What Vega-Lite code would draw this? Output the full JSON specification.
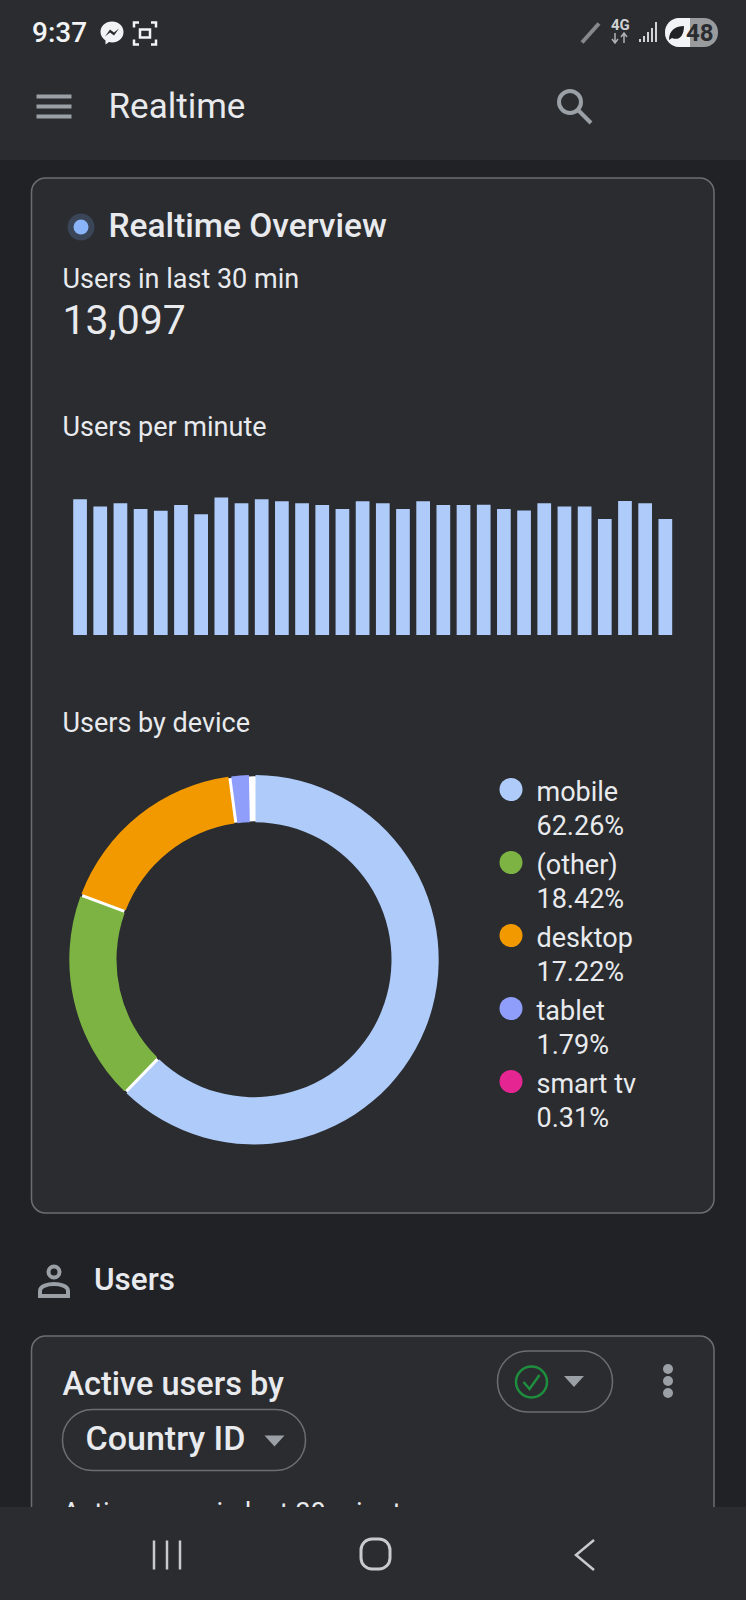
{
  "$schema": "https://vega.github.io/schema/vega-lite/v6.json",
  "width": 746,
  "height": 1600,
  "padding": 0,
  "autosize": {"type": "fit", "contains": "padding"},
  "background": "#202226",
  "config": {
    "view": {"stroke": null},
    "text": {"font": "Roboto", "align": "left", "baseline": "alphabetic", "color": "#e8eaed"}
  },
  "datasets": {
    "perMinute": [
      {"minute": 1, "users": 459}, {"minute": 2, "users": 434}, {"minute": 3, "users": 445},
      {"minute": 4, "users": 426}, {"minute": 5, "users": 420}, {"minute": 6, "users": 439},
      {"minute": 7, "users": 408}, {"minute": 8, "users": 465}, {"minute": 9, "users": 445},
      {"minute": 10, "users": 459}, {"minute": 11, "users": 452}, {"minute": 12, "users": 445},
      {"minute": 13, "users": 439}, {"minute": 14, "users": 426}, {"minute": 15, "users": 452},
      {"minute": 16, "users": 445}, {"minute": 17, "users": 426}, {"minute": 18, "users": 452},
      {"minute": 19, "users": 439}, {"minute": 20, "users": 439}, {"minute": 21, "users": 440},
      {"minute": 22, "users": 426}, {"minute": 23, "users": 421}, {"minute": 24, "users": 445},
      {"minute": 25, "users": 434}, {"minute": 26, "users": 434}, {"minute": 27, "users": 392},
      {"minute": 28, "users": 453}, {"minute": 29, "users": 445}, {"minute": 30, "users": 392}
    ],
    "devices": [
      {"device": "mobile", "share": 62.26, "rank": 1},
      {"device": "(other)", "share": 18.42, "rank": 2},
      {"device": "desktop", "share": 17.22, "rank": 3},
      {"device": "tablet", "share": 1.79, "rank": 4},
      {"device": "smart tv", "share": 0.31, "rank": 5}
    ]
  },
  "layer": [
    {"data": {"values": [{}]}, "mark": {"type": "rect", "x": 0, "x2": 746, "y": 0, "y2": 160, "fill": "#2a2c30"}},
    {"data": {"values": [{}]}, "mark": {"type": "rect", "x": 31.5, "x2": 714, "y": 178, "y2": 1213, "cornerRadius": 14, "fill": "#2a2c2f", "stroke": "#6b6e72", "strokeWidth": 1.5}},

    {"data": {"values": [{"label": "9:37"}]}, "mark": {"type": "text", "x": 32, "y": 42, "fontSize": 28, "fontWeight": 500, "color": "#f1f3f4"}, "encoding": {"text": {"field": "label"}}},
    {"data": {"values": [{}]}, "mark": {"type": "point", "x": 112, "y": 33, "shape": "M0,-11.5C6.5,-11.5 11.5,-7 11.5,-1C11.5,5 6.5,9.5 0,9.5C-1,9.5 -2,9.4 -3,9.1L-6.5,11.5V7.5C-9.5,5.5 -11.5,2.5 -11.5,-1C-11.5,-7 -6.5,-11.5 0,-11.5Z", "size": 4, "filled": true, "color": "#f1f3f4", "opacity": 1}},
    {"data": {"values": [{}]}, "mark": {"type": "point", "x": 112, "y": 32.5, "shape": "M-7,4L-2,-3L2,0L7,-4L2,3L-2,0Z", "size": 4, "filled": true, "color": "#2a2c30", "opacity": 1}},
    {"data": {"values": [{}]}, "mark": {"type": "point", "x": 145, "y": 33.5, "shape": "M-11,-6V-11H-6M6,-11H11V-6M11,6V11H6M-6,11H-11V6M-5,-4H5V4H-5Z", "size": 4, "filled": false, "color": "#f1f3f4", "strokeWidth": 2.5, "opacity": 1}},
    {"data": {"values": [{}]}, "mark": {"type": "point", "x": 590, "y": 33, "shape": "M-8,9.5L9,-9.5", "size": 4, "filled": false, "color": "#85888c", "strokeWidth": 4, "opacity": 1}},
    {"data": {"values": [{"label": "4G"}]}, "mark": {"type": "text", "x": 611, "y": 30, "fontSize": 15, "fontWeight": 700, "color": "#d0d2d4"}, "encoding": {"text": {"field": "label"}}},
    {"data": {"values": [{}]}, "mark": {"type": "point", "x": 620, "y": 38, "shape": "M-5,-5V4M-8,1L-5,5L-2,1M4,5V-4M1,-1L4,-5L7,-1", "size": 4, "filled": false, "color": "#b0b2b4", "strokeWidth": 1.5, "opacity": 1}},
    {"data": {"values": [{}]}, "mark": {"type": "point", "x": 648, "y": 32, "shape": "M-9,10V7H-7V10ZM-5,10V4H-3V10ZM-1,10V0H1V10ZM3,10V-4H5V10ZM7,10V-10H9V10Z", "size": 4, "filled": true, "color": "#d0d2d4", "opacity": 1}},
    {"data": {"values": [{}]}, "mark": {"type": "rect", "x": 665, "x2": 718, "y": 18, "y2": 47, "cornerRadius": 14, "fill": "#9a9b9d"}},
    {"data": {"values": [{}]}, "mark": {"type": "point", "x": 665, "y": 32.5, "shape": "M25,-14.5H14.5A14.5,14.5 0 0 0 14.5,14.5H25Z", "size": 4, "filled": true, "color": "#f1f3f4", "opacity": 1}},
    {"data": {"values": [{}]}, "mark": {"type": "point", "x": 676, "y": 33, "shape": "M-7,7C-7,-3 0,-7 8,-7C8,3 3,8 -4,5Z", "size": 4, "filled": true, "color": "#202226", "opacity": 1}},
    {"data": {"values": [{"label": "48"}]}, "mark": {"type": "text", "x": 686, "y": 41, "fontSize": 24, "fontWeight": 700, "color": "#2a2c30"}, "encoding": {"text": {"field": "label"}}},

    {"data": {"values": [{}]}, "mark": {"type": "point", "x": 54, "y": 106.5, "shape": "M-17.5,-10H17.5M-17.5,0H17.5M-17.5,10H17.5", "size": 4, "filled": false, "color": "#9aa0a6", "strokeWidth": 4, "opacity": 1}},
    {"data": {"values": [{"label": "Realtime"}]}, "mark": {"type": "text", "x": 108.5, "y": 118, "fontSize": 35}, "encoding": {"text": {"field": "label"}}},
    {"data": {"values": [{}]}, "mark": {"type": "point", "x": 570, "y": 102, "shape": "circle", "size": 484, "filled": false, "color": "#9aa0a6", "strokeWidth": 4, "opacity": 1}},
    {"data": {"values": [{}]}, "mark": {"type": "point", "x": 584, "y": 116, "shape": "M-6,-6L7,7", "size": 4, "filled": false, "color": "#9aa0a6", "strokeWidth": 4, "opacity": 1}},

    {"data": {"values": [{}]}, "mark": {"type": "point", "x": 81, "y": 227, "shape": "circle", "size": 729, "filled": true, "color": "#3a4558", "opacity": 1}},
    {"data": {"values": [{}]}, "mark": {"type": "point", "x": 81, "y": 227, "shape": "circle", "size": 225, "filled": true, "color": "#8ab4f8", "opacity": 1}},
    {"data": {"values": [{"label": "Realtime Overview"}]}, "mark": {"type": "text", "x": 108.5, "y": 237, "fontSize": 33.5, "fontWeight": 500}, "encoding": {"text": {"field": "label"}}},
    {"data": {"values": [{"label": "Users in last 30 min"}]}, "mark": {"type": "text", "x": 62.5, "y": 287.5, "fontSize": 27}, "encoding": {"text": {"field": "label"}}},
    {"data": {"values": [{"label": "13,097"}]}, "mark": {"type": "text", "x": 62.5, "y": 334, "fontSize": 41, "fontWeight": 400}, "encoding": {"text": {"field": "label"}}},
    {"data": {"values": [{"label": "Users per minute"}]}, "mark": {"type": "text", "x": 62.5, "y": 435.5, "fontSize": 27}, "encoding": {"text": {"field": "label"}}},

    {
      "data": {"name": "perMinute"},
      "mark": {"type": "bar", "color": "#aecbfa"},
      "encoding": {
        "x": {
          "field": "minute",
          "type": "ordinal",
          "axis": null,
          "scale": {"range": [73.2, 672.2], "paddingInner": 0.32, "paddingOuter": 0}
        },
        "y": {
          "field": "users",
          "type": "quantitative",
          "axis": null,
          "scale": {"domain": [0, 466.4], "range": [635, 497], "nice": false}
        }
      }
    },

    {"data": {"values": [{"label": "Users by device"}]}, "mark": {"type": "text", "x": 62.5, "y": 731.5, "fontSize": 27}, "encoding": {"text": {"field": "label"}}},
    {"data": {"values": [{}]}, "mark": {"type": "arc", "x": 254, "y": 959.7, "theta": 0, "theta2": 6.2832, "outerRadius": 183.5, "innerRadius": 138.5, "fill": "#ffffff"}},
    {
      "data": {"name": "devices"},
      "transform": [{"filter": "datum.device !== 'smart tv'"}],
      "mark": {"type": "arc", "x": 254, "y": 959.7, "outerRadius": 184.7, "innerRadius": 137.5, "padAngle": 0.013},
      "encoding": {
        "theta": {"field": "share", "type": "quantitative", "stack": true, "scale": {"domain": [0, 100]}},
        "order": {"field": "rank"},
        "color": {
          "field": "device",
          "type": "nominal",
          "scale": {
            "domain": ["mobile", "(other)", "desktop", "tablet", "smart tv"],
            "range": ["#aecbfa", "#7cb342", "#f29900", "#8f9dfb", "#e52592"]
          },
          "legend": {
            "orient": "none",
            "legendX": 497.5,
            "legendY": 776,
            "title": null,
            "symbolType": "circle",
            "symbolSize": 529,
            "symbolStrokeWidth": 0,
            "symbolOpacity": 1,
            "labelFont": "Roboto",
            "labelFontSize": 27,
            "labelColor": "#e8eaed",
            "labelLimit": 200,
            "labelOffset": 12,
            "labelBaseline": "top",
            "rowPadding": 9,
            "labelExpr": "[datum.label, {'mobile': '62.26%', '(other)': '18.42%', 'desktop': '17.22%', 'tablet': '1.79%', 'smart tv': '0.31%'}[datum.label]]",
            "encode": {"labels": {"update": {"lineHeight": {"value": 34.5}, "dy": {"value": -10}}}}
          }
        }
      }
    },

    {"data": {"values": [{}]}, "mark": {"type": "point", "x": 54, "y": 1272, "shape": "circle", "size": 121, "filled": false, "color": "#9aa0a6", "strokeWidth": 4, "opacity": 1}},
    {"data": {"values": [{}]}, "mark": {"type": "point", "x": 54, "y": 1289, "shape": "M-14,7V2C-14,-3 -6,-5 0,-5C6,-5 14,-3 14,2V7Z", "size": 4, "filled": false, "color": "#9aa0a6", "strokeWidth": 4, "opacity": 1}},
    {"data": {"values": [{"label": "Users"}]}, "mark": {"type": "text", "x": 94, "y": 1290, "fontSize": 31.5, "fontWeight": 500}, "encoding": {"text": {"field": "label"}}},

    {"data": {"values": [{}]}, "mark": {"type": "rect", "x": 31.5, "x2": 714, "y": 1336, "y2": 1640, "cornerRadius": 14, "fill": "#2a2c2f", "stroke": "#6b6e72", "strokeWidth": 1.5}},
    {"data": {"values": [{"label": "Active users by"}]}, "mark": {"type": "text", "x": 62.5, "y": 1395, "fontSize": 32.5, "fontWeight": 500}, "encoding": {"text": {"field": "label"}}},
    {"data": {"values": [{}]}, "mark": {"type": "rect", "x": 62.5, "x2": 305.5, "y": 1409.5, "y2": 1470.5, "cornerRadius": 30, "fill": "#2a2c2f", "stroke": "#6b6e72", "strokeWidth": 1.5}},
    {"data": {"values": [{"label": "Country ID"}]}, "mark": {"type": "text", "x": 85.5, "y": 1449.5, "fontSize": 34, "fontWeight": 500}, "encoding": {"text": {"field": "label"}}},
    {"data": {"values": [{}]}, "mark": {"type": "point", "x": 274.5, "y": 1440.5, "shape": "M-10,-5H10L0,6Z", "size": 4, "filled": true, "color": "#9aa0a6", "opacity": 1}},
    {"data": {"values": [{}]}, "mark": {"type": "rect", "x": 497.5, "x2": 612.5, "y": 1351, "y2": 1412, "cornerRadius": 30, "fill": "#2a2c2f", "stroke": "#6b6e72", "strokeWidth": 1.5}},
    {"data": {"values": [{}]}, "mark": {"type": "point", "x": 531.5, "y": 1382, "shape": "circle", "size": 961, "filled": false, "color": "#1e8e3e", "strokeWidth": 2.5, "opacity": 1}},
    {"data": {"values": [{}]}, "mark": {"type": "point", "x": 531.5, "y": 1382, "shape": "M-8,0L-2,7L8,-7", "size": 4, "filled": false, "color": "#1e8e3e", "strokeWidth": 2.5, "opacity": 1}},
    {"data": {"values": [{}]}, "mark": {"type": "point", "x": 574, "y": 1381, "shape": "M-10,-5H10L0,6Z", "size": 4, "filled": true, "color": "#9aa0a6", "opacity": 1}},
    {"data": {"values": [{}]}, "mark": {"type": "point", "x": 668, "y": 1369, "shape": "circle", "size": 100, "filled": true, "color": "#9aa0a6", "opacity": 1}},
    {"data": {"values": [{}]}, "mark": {"type": "point", "x": 668, "y": 1381, "shape": "circle", "size": 100, "filled": true, "color": "#9aa0a6", "opacity": 1}},
    {"data": {"values": [{}]}, "mark": {"type": "point", "x": 668, "y": 1393, "shape": "circle", "size": 100, "filled": true, "color": "#9aa0a6", "opacity": 1}},
    {"data": {"values": [{"label": "Active users in last 30 minutes"}]}, "mark": {"type": "text", "x": 62.5, "y": 1522, "fontSize": 27}, "encoding": {"text": {"field": "label"}}},

    {"data": {"values": [{}]}, "mark": {"type": "rect", "x": 0, "x2": 746, "y": 1507, "y2": 1600, "fill": "#2a2c30"}},
    {"data": {"values": [{}]}, "mark": {"type": "point", "x": 167, "y": 1554.5, "shape": "M-13,-14V15M0,-14V15M13,-14V15", "size": 4, "filled": false, "color": "#c8cacc", "strokeWidth": 2.5, "opacity": 1}},
    {"data": {"values": [{}]}, "mark": {"type": "rect", "x": 361, "x2": 390, "y": 1539, "y2": 1569, "cornerRadius": 11, "stroke": "#c8cacc", "strokeWidth": 3, "fillOpacity": 0}},
    {"data": {"values": [{}]}, "mark": {"type": "point", "x": 585, "y": 1555, "shape": "M9,-15L-9,0L9,15", "size": 4, "filled": false, "color": "#c8cacc", "strokeWidth": 2.5, "opacity": 1}}
  ]
}
